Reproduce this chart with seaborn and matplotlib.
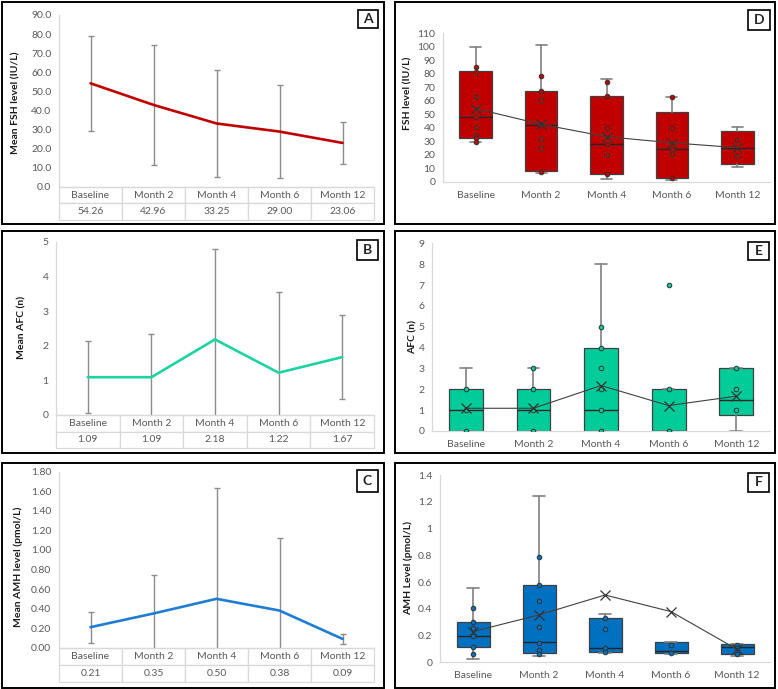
import numpy as np
import pandas as pd
import matplotlib.pyplot as plt
import seaborn as sns
from matplotlib.patches import Rectangle

# ========== DATA ==========
visits = ["Baseline", "Month 2", "Month 4", "Month 6", "Month 12"]

# mean +/- SD (left panels)
fsh_mean = [54.26, 42.96, 33.25, 29.00, 23.06]
fsh_sd = [24.8, 31.4, 28.0, 24.3, 11.0]
afc_mean = [1.09, 1.09, 2.18, 1.22, 1.67]
afc_sd = [1.04, 1.24, 2.61, 2.34, 1.22]
amh_mean = [0.21, 0.35, 0.50, 0.38, 0.09]
amh_sd = [0.16, 0.39, 1.13, 0.74, 0.05]

# box & whisker summaries (right panels)
fsh_lo = [29.8, 6.9, 2.5, 1.5, 10.9]
fsh_q1 = [32.4, 8.4, 6.2, 2.7, 13.1]
fsh_med = [47.8, 42.3, 28.1, 24.3, 24.9]
fsh_q3 = [81.9, 67.2, 63.6, 51.5, 37.5]
fsh_hi = [100.2, 101.6, 76.0, 63.1, 40.4]
fsh_box_mean = [54.3, 42.7, 33.5, 29.0, 25.4]
fsh_points = [[85.3, 81.6, 63.1, 47.8, 41.0, 35.0, 32.3, 29.8],
              [78.4, 67.2, 60.5, 42.3, 32.1, 25.4, 7.4],
              [74.3, 63.7, 40.2, 28.1, 20.3, 5.8],
              [63.1, 40.2, 24.3, 21.0, 3.0],
              [31.1, 19.2]]

afc_lo = [0, 0, 0, 0, 0]
afc_q1 = [0, 0, 0, 0, 0.75]
afc_med = [1, 1, 1, 0, 1.5]
afc_q3 = [2, 2, 4, 2, 3]
afc_hi = [3, 3, 8, 2, 3]
afc_box_mean = [1.09, 1.09, 2.18, 1.22, 1.67]
afc_points = [[2, 1, 0], [3, 2, 1, 0], [5, 4, 3, 2, 1, 0], [7, 2, 0], [3, 2, 1]]

amh_lo = [0.022, 0.049, 0.067, 0.060, 0.045]
amh_q1 = [0.112, 0.072, 0.075, 0.072, 0.065]
amh_med = [0.193, 0.149, 0.110, 0.087, 0.112]
amh_q3 = [0.300, 0.578, 0.329, 0.149, 0.135]
amh_hi = [0.553, 1.243, 0.364, 0.149, 0.140]
amh_box_mean = [0.23, 0.354, 0.503, 0.379, 0.097]
amh_points = [[0.404, 0.300, 0.259, 0.193, 0.112, 0.060],
              [0.789, 0.578, 0.460, 0.262, 0.142, 0.092, 0.065],
              [0.329, 0.249, 0.110, 0.075],
              [0.130, 0.072],
              [0.130, 0.110, 0.065]]

# ========== STYLE ==========
sns.set_style("white")
plt.rcParams["font.family"] = ["Lato", "DejaVu Sans"]
TICK_COL = "#595959"
GRID_COL = "#d9d9d9"
FS = 7.5

W, H = 778, 689
fig = plt.figure(figsize=(W / 100, H / 100), dpi=100)
pos = np.arange(len(visits))


def add_ax(l, t, r, b):
    return fig.add_axes([l / W, 1 - b / H, (r - l) / W, (b - t) / H])


def frame(l, t, r, b):
    fig.add_artist(Rectangle((l / W, 1 - b / H), (r - l) / W, (b - t) / H,
                             transform=fig.transFigure, fill=False,
                             ec="black", lw=1.4))


def tag(letter, l, t, r, b):
    fig.add_artist(Rectangle((l / W, 1 - b / H), (r - l) / W, (b - t) / H,
                             transform=fig.transFigure, fc="white",
                             ec="black", lw=1.2))
    fig.text((l + r) / 2 / W, 1 - (t + b) / 2 / H, letter, ha="center",
             va="center", fontsize=10, fontweight="bold")


def ylab(text, x, y):
    fig.text(x / W, 1 - y / H, text, rotation=90, ha="center", va="center",
             fontsize=FS, fontweight="bold", color="#1a1a1a")


def style_axis(ax, ylim, ticks, fmt):
    ax.set_ylim(*ylim)
    ax.set_xlim(-0.5, len(visits) - 0.5)
    ax.set_yticks(ticks)
    ax.set_yticklabels([fmt(v) for v in ticks])
    ax.tick_params(axis="both", length=0, labelsize=FS, colors=TICK_COL, pad=5.5)
    for s in ["top", "right"]:
        ax.spines[s].set_visible(False)
    for s in ["left", "bottom"]:
        ax.spines[s].set_color(GRID_COL)
        ax.spines[s].set_linewidth(0.9)
    ax.set_xlabel("")
    ax.set_ylabel("")


def line_panel(rect, table_h, means, sds, color, ylim, ticks, fmt):
    l, t, r, b = rect
    ax = add_ax(l, t, r, b)
    ax.errorbar(pos, means, yerr=sds, fmt="none", ecolor="#8c8c8c",
                elinewidth=1.0, capsize=2.5, capthick=1.0, zorder=2)
    sns.lineplot(x=pos, y=means, color=color, lw=1.9, ax=ax, zorder=3)
    style_axis(ax, ylim, ticks, fmt)
    ax.set_xticks([])
    h = table_h / (b - t)
    tbl = ax.table(cellText=[visits, [f"{m:.2f}" for m in means]],
                   cellLoc="center", bbox=[0, -h, 1, h])
    tbl.auto_set_font_size(False)
    tbl.set_fontsize(FS)
    for cell in tbl.get_celld().values():
        cell.set_edgecolor(GRID_COL)
        cell.set_linewidth(0.9)
        cell.get_text().set_color(TICK_COL)
    return ax


def box_panel(rect, lo, q1, med, q3, hi, box_mean, points, color, ylim, ticks, fmt):
    ax = add_ax(*rect)
    stats = [dict(whislo=a, q1=c, med=d, q3=e, whishi=f, fliers=[])
             for a, c, d, e, f in zip(lo, q1, med, q3, hi)]
    ax.bxp(stats, positions=pos, widths=0.5, capwidths=0.17,
           patch_artist=True, showfliers=False, manage_ticks=False,
           boxprops=dict(facecolor=color, edgecolor="#404040", lw=0.9),
           medianprops=dict(color="#262626", lw=1.0),
           whiskerprops=dict(color="#808080", lw=1.2),
           capprops=dict(color="#808080", lw=1.2))
    df = pd.DataFrame([(v, p) for v, pts in zip(visits, points) for p in pts],
                      columns=["visit", "value"])
    sns.stripplot(data=df, x="visit", y="value", order=visits, jitter=False,
                  color=color, edgecolor="#333333", linewidth=0.7, size=3.3,
                  ax=ax, zorder=4)
    sns.lineplot(x=pos, y=box_mean, color="#404040", lw=0.8, marker="x",
                 markersize=7, markeredgewidth=0.9, markeredgecolor="#333333",
                 ax=ax, zorder=5)
    style_axis(ax, ylim, ticks, fmt)
    ax.set_xticks(pos)
    ax.set_xticklabels(visits)
    ax.tick_params(axis="x", pad=6.5)
    return ax


# ========== FRAMES ==========
frame(2, 2, 384, 224)
frame(395, 2, 775, 224)
frame(2, 231, 384, 453)
frame(395, 231, 775, 453)
frame(2, 463, 384, 688)
frame(395, 463, 775, 688)

# ========== LEFT: MEAN +/- SD ==========
line_panel((59, 15, 374, 187), 33, fsh_mean, fsh_sd, "#C00000", (0, 90),
           np.arange(0, 91, 10), lambda v: f"{v:.1f}")
line_panel((56, 241.7, 374, 415), 33, afc_mean, afc_sd, "#1ED3A2", (0, 5),
           np.arange(0, 6, 1), lambda v: f"{v:.0f}")
line_panel((59, 471.7, 374, 647.7), 34, amh_mean, amh_sd, "#1F7DD4", (0, 1.8),
           np.arange(0, 1.81, 0.2), lambda v: f"{v:.2f}")

# ========== RIGHT: BOX PLOTS ==========
box_panel((443, 33.3, 770, 182), fsh_lo, fsh_q1, fsh_med, fsh_q3, fsh_hi,
          fsh_box_mean, fsh_points, "#C00000", (0, 110),
          np.arange(0, 111, 10), lambda v: f"{v:.0f}")
box_panel((432, 243.3, 770, 431), afc_lo, afc_q1, afc_med, afc_q3, afc_hi,
          afc_box_mean, afc_points, "#00CC99", (0, 9),
          np.arange(0, 10, 1), lambda v: f"{v:.0f}")
box_panel((440, 475, 770, 662.3), amh_lo, amh_q1, amh_med, amh_q3, amh_hi,
          amh_box_mean, amh_points, "#0070C0", (0, 1.4),
          np.round(np.arange(0, 1.41, 0.2), 1), lambda v: f"{v:g}")

# ========== LABELS ==========
ylab("Mean FSH level (IU/L)", 16, 103)
ylab("Mean AFC (n)", 22, 327)
ylab("Mean AMH level (pmol/L)", 18, 567)
ylab("FSH level (IU/L)", 408, 93)
ylab("AFC (n)", 413, 337)
ylab("AMH Level (pmol/L)", 408, 568)

tag("A", 358, 10, 378, 28)
tag("B", 357, 240, 378, 260)
tag("C", 357, 470, 378, 492)
tag("D", 748, 10, 770, 30)
tag("E", 748, 242, 769, 260)
tag("F", 748, 473, 769, 492)

plt.savefig("out.png", dpi=100)
